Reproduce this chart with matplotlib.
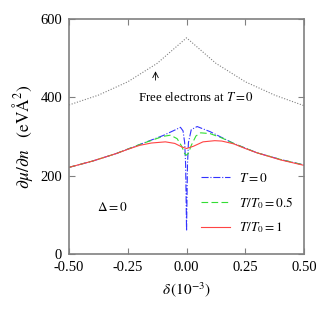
import matplotlib
matplotlib.use("Agg")
import matplotlib.pyplot as plt

plt.rcParams['font.family'] = ['Liberation Serif', 'DejaVu Serif']
plt.rcParams['mathtext.fontset'] = 'stix'

# free electrons, T = 0
d_free = [-0.5, -0.375, -0.25, -0.125, 0.0, 0.125, 0.25, 0.375, 0.5]
v_free = [381, 406, 440, 487, 552, 487, 440, 406, 379]

# T = 0
d_t0 = [-0.5, -0.4, -0.3, -0.2, -0.1, -0.05, -0.026, -0.015, -0.008, -0.004, -0.002, 0.0,
        0.002, 0.004, 0.008, 0.02, 0.045, 0.1, 0.2, 0.3, 0.4, 0.5]
v_t0 = [222, 238, 257, 280, 303, 317, 324, 315, 285, 230, 150, 60,
        150, 230, 285, 318, 326, 313, 283, 259, 242, 228]

# T/T0 = 0.5
d_t05 = [-0.5, -0.4, -0.3, -0.2, -0.1, -0.068, -0.04, -0.02, -0.008, 0.0,
         0.008, 0.02, 0.04, 0.06, 0.1, 0.15, 0.2, 0.3, 0.4, 0.5]
v_t05 = [222, 238, 257, 280, 301, 304, 295, 275, 257, 253,
         258, 278, 302, 310, 308, 297, 283, 259, 242, 228]

# T/T0 = 1
d_t1 = [-0.5, -0.4, -0.3, -0.25, -0.2, -0.15, -0.09, -0.05, -0.02, 0.0,
        0.03, 0.07, 0.12, 0.15, 0.2, 0.25, 0.3, 0.4, 0.5]
v_t1 = [222, 238, 257, 268, 278, 284, 287, 283, 274, 270,
        276, 287, 290, 289, 282, 270, 259, 241, 227]

fig = plt.figure(figsize=(3.27, 3.14), dpi=100)
ax = fig.add_axes([0.211, 0.1895, 0.719, 0.75])

ax.plot(d_free, v_free, color='gray', ls=(0, (1, 1.5)), lw=0.8)
l1, = ax.plot(d_t0, v_t0, color='#3333ff', ls='-.', lw=0.8, label='$T = 0$')
l2, = ax.plot(d_t05, v_t05, color='#33dd33', ls=(0, (6, 3)), lw=0.8, label='$T/T_0 = 0.5$')
l3, = ax.plot(d_t1, v_t1, color='#ff4444', ls='-', lw=0.8, label='$T/T_0 = 1$')

ax.set_xlim(-0.5, 0.5)
ax.set_ylim(0, 600)
ax.set_xticks([-0.5, -0.25, 0, 0.25, 0.5])
ax.set_xticklabels(['-0.50', '-0.25', '0.00', '0.25', '0.50'])
ax.set_yticks([0, 200, 400, 600])
ax.tick_params(direction='in', top=True, right=True, labelsize=10.5, length=4,
               width=0.8, color='gray', pad=5)
for s in ax.spines.values():
    s.set_color('gray')
    s.set_linewidth(1.2)

ax.set_xlabel(r'$\delta\,(10^{-3})$', fontsize=11)
ax.set_ylabel(r'$\partial\mu/\partial n\ \ \ (\mathrm{eV\AA^2})$', fontsize=12.5, labelpad=4)

ax.text(-0.208, 401, 'Free electrons at $T = 0$', fontsize=9.3, va='center')
ax.annotate('', xy=(-0.132, 474), xytext=(-0.132, 437),
            arrowprops=dict(arrowstyle='->', color='black', lw=0.6))
ax.text(-0.38, 121, r'$\Delta = 0$', fontsize=9.5, va='center')

ax.legend(handles=[l1, l2, l3], loc='upper left', bbox_to_anchor=(0.56, 0.35),
          frameon=False, fontsize=9.5, handlelength=2.2, labelspacing=0.75,
          handletextpad=0.7, borderpad=0, borderaxespad=0)

fig.savefig('out.png', dpi=100)
